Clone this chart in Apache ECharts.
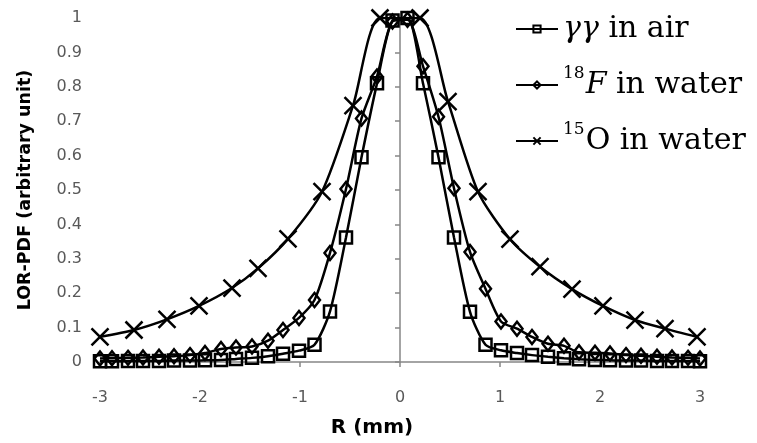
<!DOCTYPE html>
<html>
<head>
<meta charset="utf-8">
<script src="https://cdn.jsdelivr.net/npm/echarts@6/dist/echarts.min.js"></script>
<style>
  html, body { margin: 0; padding: 0; background: #fff; }
  #chart { width: 757px; height: 443px; }
</style>
</head>
<body>
<div id="chart"></div>
<script>
// R positions (mm) for the γγ-in-air and 18F curves
const rFine = [-3.0, -2.88, -2.72, -2.57, -2.41, -2.26, -2.1, -1.95, -1.79, -1.64,
  -1.48, -1.32, -1.17, -1.01, -0.855, -0.70, -0.54, -0.385, -0.23, -0.075,
  0.075, 0.23, 0.385, 0.54, 0.70, 0.855, 1.01, 1.17, 1.32, 1.48,
  1.64, 1.79, 1.95, 2.1, 2.26, 2.41, 2.57, 2.72, 2.88, 3.0];
const airValues = [0.002, 0.002, 0.003, 0.003, 0.003, 0.004, 0.004, 0.005, 0.006, 0.009,
  0.012, 0.017, 0.024, 0.033, 0.05, 0.147, 0.362, 0.595, 0.81, 0.993,
  1.0, 0.81, 0.595, 0.362, 0.146, 0.05, 0.034, 0.026, 0.02, 0.015,
  0.011, 0.008, 0.006, 0.005, 0.004, 0.004, 0.003, 0.003, 0.003, 0.002];
const f18Values = [0.010, 0.011, 0.012, 0.013, 0.015, 0.017, 0.02, 0.026, 0.038, 0.042,
  0.045, 0.062, 0.093, 0.128, 0.18, 0.317, 0.503, 0.708, 0.83, 0.99,
  0.995, 0.86, 0.713, 0.505, 0.32, 0.213, 0.118, 0.097, 0.073, 0.053,
  0.047, 0.028, 0.027, 0.025, 0.02, 0.018, 0.015, 0.013, 0.012, 0.01];
// R positions (mm) and values for the 15O curve
const rO15 = [-3.0, -2.66, -2.33, -2.01, -1.68, -1.42, -1.12, -0.78, -0.47, -0.2,
  0.2, 0.48, 0.78, 1.1, 1.4, 1.72, 2.03, 2.35, 2.65, 2.97];
const o15Values = [0.073, 0.093, 0.124, 0.163, 0.215, 0.272, 0.358, 0.495, 0.745, 1.0,
  1.0, 0.757, 0.495, 0.357, 0.277, 0.212, 0.163, 0.122, 0.097, 0.073];

const seriesNames = ['γγ in air', '18F in water', '15O in water'];
const legendRich = {
  'γγ in air': '{it|γγ}{n| in air}',
  '18F in water': '{sup|18}{it|F}{n| in water}',
  '15O in water': '{sup|15}{n|O in water}'
};
const xTitle = 'R (mm)';
const yTitle = 'LOR-PDF (arbitrary unit)';

function zip(xs, ys) { return xs.map((x, i) => [x, ys[i]]); }

const chart = echarts.init(document.getElementById('chart'), null, { renderer: 'canvas' });

const common = {
  type: 'line',
  smooth: 0.25,
  lineStyle: { color: '#000', width: 2.5 },
  itemStyle: { color: 'rgba(0,0,0,0)', borderColor: '#000', borderWidth: 2.5 },
  emphasis: { disabled: true },
  animation: false,
  z: 2
};

chart.setOption({
  animation: false,
  backgroundColor: '#fff',
  grid: { left: 100, right: 57, top: 18, bottom: 81 },
  legend: {
    orient: 'vertical',
    left: 510,
    top: 4,
    itemWidth: 42,
    itemHeight: 9,
    itemGap: 16,
    selectedMode: false,
    data: seriesNames,
    formatter: name => legendRich[name],
    textStyle: {
      fontFamily: 'DejaVu Serif',
      fontSize: 30,
      color: '#000',
      lineHeight: 40,
      rich: {
        n: { fontFamily: 'DejaVu Serif', fontSize: 30, color: '#000', lineHeight: 40 },
        it: { fontFamily: 'DejaVu Serif', fontStyle: 'italic', fontSize: 30, color: '#000', lineHeight: 40 },
        sup: { fontFamily: 'DejaVu Serif', fontSize: 17, color: '#000', lineHeight: 17, verticalAlign: 'top', padding: [0, 1, 0, 0] }
      }
    }
  },
  xAxis: {
    type: 'value',
    min: -3, max: 3, interval: 1,
    name: xTitle,
    nameLocation: 'middle',
    nameGap: 56,
    nameTextStyle: { fontFamily: 'DejaVu Sans', fontWeight: 'bold', fontSize: 20, color: '#000', padding: [0, 56, 0, 0] },
    axisLine: { onZero: false, lineStyle: { color: '#868686', width: 1.5 } },
    axisTick: { show: true, length: 5, lineStyle: { color: '#868686', width: 1.5 } },
    axisLabel: { margin: 28, fontFamily: 'DejaVu Sans', fontSize: 16, color: '#595959' },
    splitLine: { show: false }
  },
  yAxis: {
    type: 'value',
    min: 0, max: 1, interval: 0.1,
    name: yTitle,
    nameLocation: 'middle',
    nameGap: 66,
    nameRotate: 90,
    nameTextStyle: { fontFamily: 'DejaVu Sans', fontWeight: 'bold', fontSize: 17.5, color: '#000' },
    axisLine: { show: true, lineStyle: { color: '#868686', width: 1.5 } },
    axisTick: { show: true, length: 5, lineStyle: { color: '#868686', width: 1.5 } },
    axisLabel: { margin: 18, fontFamily: 'DejaVu Sans', fontSize: 16, color: '#595959' },
    splitLine: { show: false }
  },
  series: [
    Object.assign({}, common, {
      name: seriesNames[0],
      data: zip(rFine, airValues),
      symbol: 'rect',
      symbolSize: 12
    }),
    Object.assign({}, common, {
      name: seriesNames[1],
      data: zip(rFine, f18Values),
      symbol: 'diamond',
      symbolSize: [11, 14]
    }),
    Object.assign({}, common, {
      name: seriesNames[2],
      data: zip(rO15, o15Values),
      symbol: 'path://M0,0L10,10M10,0L0,10',
      symbolSize: 17
    })
  ]
});
</script>
</body>
</html>
